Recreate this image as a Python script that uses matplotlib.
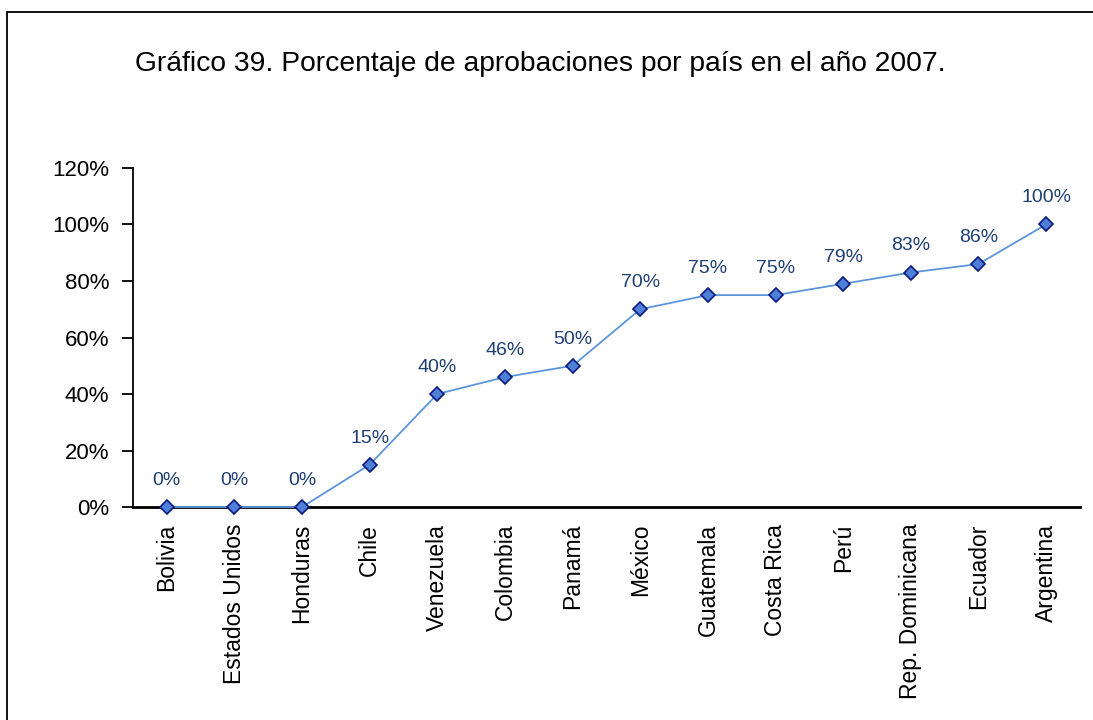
import matplotlib.pyplot as plt
from matplotlib.patches import Rectangle
from matplotlib.ticker import FuncFormatter

paises = ['Bolivia', 'Estados Unidos', 'Honduras', 'Chile', 'Venezuela',
          'Colombia', 'Panamá', 'México', 'Guatemala', 'Costa Rica', 'Perú',
          'Rep. Dominicana', 'Ecuador', 'Argentina']
aprobaciones = [0, 0, 0, 15, 40, 46, 50, 70, 75, 75, 79, 83, 86, 100]

plt.rcParams['font.family'] = ['Liberation Sans', 'DejaVu Sans']

fig = plt.figure(figsize=(10.93, 7.2), dpi=100)
ax = fig.add_axes([0.1217, 0.2958, 0.8663, 0.4709])

x = list(range(len(paises)))
ax.plot(x, aprobaciones, color='#5b95dc', linewidth=1.3, marker='D',
        markersize=7.2, markerfacecolor='#4f7fd6', markeredgecolor='#0a1a80',
        markeredgewidth=1.2, zorder=3, clip_on=False)

for xi, v in zip(x, aprobaciones):
    ax.annotate('{}%'.format(v), (xi, v), xytext=(0, 13), textcoords='offset points',
                ha='center', va='bottom', fontsize=14, color='#1f3f73')

ax.set_xlim(-0.5, len(paises) - 0.5)
ax.set_ylim(0, 120)
ax.set_yticks(range(0, 121, 20))
ax.yaxis.set_major_formatter(FuncFormatter(lambda v, p: '{:d}%'.format(int(v))))
ax.set_xticks(x)
ax.set_xticklabels(paises, rotation=90, fontsize=16.5)
ax.tick_params(axis='x', length=0, pad=12)
ax.tick_params(axis='y', length=8, width=1.3, labelsize=16, pad=9)

ax.spines['top'].set_visible(False)
ax.spines['right'].set_visible(False)
ax.spines['left'].set_linewidth(1.3)
ax.spines['bottom'].set_linewidth(2)

fig.text(0.494, 0.911, 'Gráfico 39. Porcentaje de aprobaciones por país en el año 2007.',
         ha='center', va='center', fontsize=20.3)

# marco exterior del gráfico
fig.patches.append(Rectangle((7 / 1093, -0.1), 1.2, 1.1 - 12 / 720,
                             transform=fig.transFigure, fill=False,
                             edgecolor='black', linewidth=1.3))

fig.savefig('out.png', dpi=100)
